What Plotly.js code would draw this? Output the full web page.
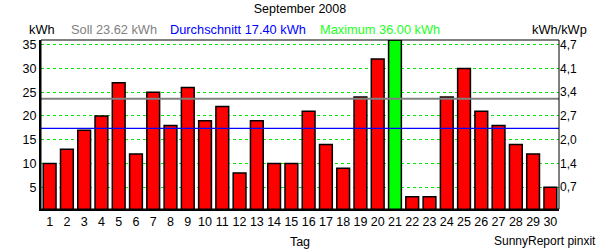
<!DOCTYPE html>
<html><head><meta charset="utf-8">
<script src="https://cdn.plot.ly/plotly-3.0.1.min.js"></script>
<style>html,body{margin:0;padding:0;background:#fff}</style>
</head><body>
<div id="chart" style="width:600px;height:250px"></div>
<script>
const days = [1,2,3,4,5,6,7,8,9,10,11,12,13,14,15,16,17,18,19,20,21,22,23,24,25,26,27,28,29,30];
const kwh = [10,13,17,20,27,12,25,18,26,19,22,8,19,10,10,21,14,9,24,32,36,3,3,24,30,21,18,14,12,5];
const soll = 23.62;
const avg = 17.40;
const maxVal = 36.00;
const leftTicks = [5,10,15,20,25,30,35];
const rightTickText = ["0,7","1,4","2,0","2,7","3,4","4,1","4,7"];

const colors = kwh.map(v => v === maxVal ? '#00ff00' : '#ff0000');
const fam = 'Liberation Sans, Arial, sans-serif';
const font = {family: fam, size: 12.5, color: '#000'};
const afont = {family: fam, size: 12.8, color: '#000'};

const traces = [
  {type:'bar', x: days, y: kwh, marker:{color: colors, line:{color:'#000', width:1.5}}, hoverinfo:'none'},
  {type:'scatter', mode:'lines', x:[0.5,30.5], y:[soll,soll], line:{color:'#808080', width:2}, hoverinfo:'none'},
  {type:'scatter', mode:'lines', x:[0.5,30.5], y:[avg,avg], line:{color:'#0000ff', width:1.3}, hoverinfo:'none'},
  {type:'scatter', mode:'lines', x:[0.5,30.5], y:[avg,avg], yaxis:'y2', line:{width:0}, hoverinfo:'none', showlegend:false}
];

const layout = {
  width:600, height:250,
  margin:{l:41, r:41, t:40, b:41},
  paper_bgcolor:'#fff', plot_bgcolor:'#fff',
  showlegend:false, bargap:0.26,
  font: font,
  title:{text:'September 2008', x:0.5, xanchor:'center', y:0.965, yanchor:'middle', font:{family:fam, size:12.5, color:'#000'}},
  xaxis:{range:[0.5,30.5], tickvals: days, ticktext: days.map(String), showgrid:false, zeroline:false,
         showline:true, linecolor:'#000', linewidth:2, ticks:'', tickfont:font, fixedrange:true,
         title:{text:'Tag', font:font, standoff:9}},
  yaxis:{range:[0.4,36], tickvals: leftTicks, ticktext: leftTicks.map(String), showgrid:true,
         gridcolor:'#00e600', griddash:'3px,3px', gridwidth:1, zeroline:false,
         showline:true, linecolor:'#000', linewidth:2, ticks:'', tickfont:font},
  yaxis2:{range:[0.4,36], overlaying:'y', side:'right', tickvals: leftTicks, ticktext: rightTickText,
          showgrid:false, zeroline:false, showline:false, ticks:'', tickfont:{family:fam, size:12, color:'#000'}},
  shapes:[{type:'rect', xref:'paper', yref:'paper', x0:0, x1:1, y0:0, y1:1, line:{color:'#000', width:1}}],
  annotations:[
    {text:'kWh', xref:'paper', yref:'paper', x:-0.027, y:1.06, xanchor:'left', yanchor:'middle', showarrow:false, font:afont},
    {text:'Soll 23.62 kWh', xref:'paper', yref:'paper', x:0.054, y:1.06, xanchor:'left', yanchor:'middle', showarrow:false, font:{family:fam,size:12.8,color:'#808080'}},
    {text:'Durchschnitt 17.40 kWh', xref:'paper', yref:'paper', x:0.245, y:1.06, xanchor:'left', yanchor:'middle', showarrow:false, font:{family:fam,size:12.8,color:'#0000ff'}},
    {text:'Maximum 36.00 kWh', xref:'paper', yref:'paper', x:0.535, y:1.06, xanchor:'left', yanchor:'middle', showarrow:false, font:{family:fam,size:12.8,color:'#22ff22'}},
    {text:'kWh/kWp', xref:'paper', yref:'paper', x:1.058, y:1.06, xanchor:'right', yanchor:'middle', showarrow:false, font:afont},
    {text:'SunnyReport pinxit', xref:'paper', yref:'paper', x:1.075, y:-0.19, xanchor:'right', yanchor:'middle', showarrow:false, font:{family:fam,size:12,color:'#000'}}
  ]
};
Plotly.newPlot('chart', traces, layout, {staticPlot:true, displayModeBar:false});
</script>
</body></html>
